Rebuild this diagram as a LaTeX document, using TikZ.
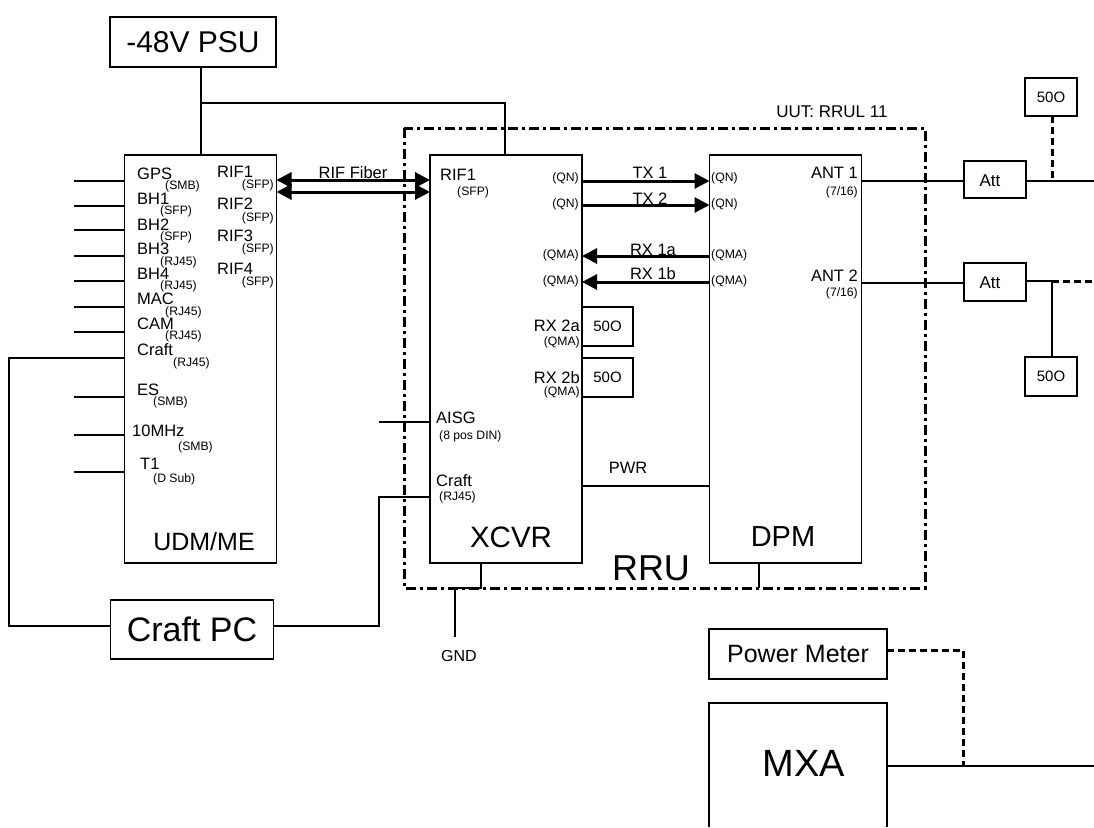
\documentclass[tikz,border=0pt]{standalone}
\usepackage{fontspec}
\setmainfont{Liberation Sans}
\usepackage{tikz}
\usetikzlibrary{arrows.meta,positioning,calc}
\newcommand{\fsize}[1]{\fontsize{#1}{#1}\selectfont}
\tikzset{
  box/.style={draw,line width=1.5pt,anchor=north west,inner sep=0pt,outer sep=0pt,align=center},
  wire/.style={line width=1.5pt},
  sigarrow/.style={line width=3pt,-{Triangle[length=15pt,width=15pt]}},
  fiberarrow/.style={line width=3pt,{Triangle[length=15pt,width=15pt]}-{Triangle[length=15pt,width=15pt]}},
  testwire/.style={line width=3pt,dash pattern=on 7pt off 4pt},
  rruframe/.style={line width=3pt,dash pattern=on 10pt off 4pt on 3pt off 4pt},
  port/.style={font=\fsize{16.5},inner sep=0pt},
  plug/.style={font=\fsize{12.2},inner sep=0pt},
  title/.style={inner sep=0pt}
}
\begin{document}
\begin{tikzpicture}[x=1pt,y=-1pt]
  \useasboundingbox (0,0) rectangle (1094,827);

  % RRU frame
  \draw[rruframe] (404,128) rectangle (925,588);
  \node[title,font=\fsize{17}] (uut) at (832,112) {UUT: RRUL 11};

  % Main boxes
  \node[box,minimum width=166pt,minimum height=50pt,font=\fsize{30}] (psu) at (110,17) {-48V PSU};
  \node[box,minimum width=152pt,minimum height=408pt] (udm) at (124.5,155) {};
  \node[box,minimum width=152pt,minimum height=408pt] (xcvr) at (430,155) {};
  \node[box,minimum width=152pt,minimum height=408pt] (dpm) at (709.5,155) {};
  \node[box,minimum width=163pt,minimum height=59pt,font=\fsize{34}] (craftpc) at (110.5,600) {Craft PC};
  \node[box,minimum width=178pt,minimum height=50pt,font=\fsize{25}] (meter) at (709,629) {Power Meter};
  \draw[wire] (709,827) -- (709,703) -- (887,703) -- (887,827);
  \node[title,font=\fsize{38}] (mxa) at (804,763) {MXA};

  \node[title,font=\fsize{25},anchor=south] (udmtitle) at (204,551) {UDM/ME};
  \node[title,font=\fsize{29.5}] (xcvrtitle) at (511,537) {XCVR};
  \node[title,font=\fsize{29}] (dpmtitle) at (783,537) {DPM};
  \node[title,font=\fsize{36}] (rrutitle) at (651,568) {RRU};

  % Terminations
  \node[box,minimum width=51pt,minimum height=39pt,font=\fsize{15}] (termA) at (582,307) {50O};
  \node[box,minimum width=51pt,minimum height=39pt,font=\fsize{15}] (termB) at (582,358) {50O};
  \node[box,minimum width=62pt,minimum height=37pt] (attA) at (964,161) {};
  \node[box,minimum width=62pt,minimum height=38pt] (attB) at (964,263) {};
  \node[title,font=\fsize{17}] (attAtext) at (990,181) {Att};
  \node[title,font=\fsize{17}] (attBtext) at (990,283) {Att};
  \node[box,minimum width=52pt,minimum height=38pt,font=\fsize{15}] (termC) at (1025,78) {50O};
  \node[box,minimum width=52pt,minimum height=39pt,font=\fsize{15}] (termD) at (1025,357) {50O};

  % UDM ports
  \foreach \name/\txt/\xx/\yy/\sub/\subx/\suby in {
    gps/GPS/137/174/SMB/165/186,
    bha/BH1/137/199/SFP/160/211,
    bhb/BH2/137/225/SFP/160/237,
    bhc/BH3/137/249/RJ45/160/262,
    bhd/BH4/137/274/RJ45/160/286,
    mac/MAC/137/299/RJ45/165/312,
    cam/CAM/137/324/RJ45/165/336,
    craft/Craft/137/350/RJ45/173/363,
    es/ES/137/390/SMB/153/402,
    ten/10MHz/132/431/SMB/178/447,
    tone/T1/140/464/D Sub/153/479}{
    \node[port,anchor=west] (\name) at (\xx,\yy) {\txt};
    \node[plug,anchor=west] (\name sub) at (\subx,\suby) {(\sub)};
  }
  \foreach \name/\txt/\yy/\suby in {
    rifa/RIF1/172/185,
    rifb/RIF2/204/218,
    rifc/RIF3/236/249,
    rifd/RIF4/269/282}{
    \node[port,anchor=west] (\name) at (217,\yy) {\txt};
    \node[plug,anchor=east] (\name sub) at (274,\suby) {(SFP)};
  }

  % XCVR ports
  \node[port,anchor=west] (xrif) at (440,175) {RIF1};
  \node[plug,anchor=west] (xrifsub) at (457,192) {(SFP)};
  \node[plug,anchor=east] (xqna) at (579,178) {(QN)};
  \node[plug,anchor=east] (xqnb) at (579,204) {(QN)};
  \node[plug,anchor=east] (xqma) at (579,255) {(QMA)};
  \node[plug,anchor=east] (xqmb) at (579,281) {(QMA)};
  \node[port,anchor=east] (rxa) at (580,326) {RX 2a};
  \node[plug,anchor=east] (rxasub) at (580,342) {(QMA)};
  \node[port,anchor=east] (rxb) at (580,378) {RX 2b};
  \node[plug,anchor=east] (rxbsub) at (580,392) {(QMA)};
  \node[port,anchor=west] (aisg) at (436,418) {AISG};
  \node[plug,anchor=west] (aisgsub) at (439,436) {(8 pos DIN)};
  \node[port,anchor=west] (xcraft) at (436,481) {Craft};
  \node[plug,anchor=west] (xcraftsub) at (439,497) {(RJ45)};

  % DPM ports
  \node[plug,anchor=west] (dqna) at (711,178) {(QN)};
  \node[plug,anchor=west] (dqnb) at (711,204) {(QN)};
  \node[plug,anchor=west] (dqma) at (711,255) {(QMA)};
  \node[plug,anchor=west] (dqmb) at (711,281) {(QMA)};
  \node[port,anchor=east] (anta) at (858,173) {ANT 1};
  \node[plug,anchor=east] (antasub) at (858,192) {(7/16)};
  \node[port,anchor=east] (antb) at (858,276) {ANT 2};
  \node[plug,anchor=east] (antbsub) at (858,293) {(7/16)};

  % Connector labels
  \node[port] (fiberlabel) at (353,173) {RIF Fiber};
  \node[port] (txa) at (650,173) {TX 1};
  \node[port] (txb) at (650,199) {TX 2};
  \node[port] (rxla) at (653,250) {RX 1a};
  \node[port] (rxlb) at (653,274) {RX 1b};
  \node[port] (pwr) at (628,468) {PWR};
  \node[port,font=\fsize{16}] (gnd) at (459,656) {GND};

  % Free ends
  \foreach \name/\yy in {gpsend/181,bhaend/206,bhbend/230,bhcend/256,bhdend/281,macend/307,camend/332,esend/397,tenend/435,toneend/472}{
    \coordinate (\name) at (74,\yy);
    \draw[wire] (\name) -- (\name -| udm.west);
  }
  \coordinate (aisgend) at (379,422);
  \coordinate (gndend) at (455,637);
  \coordinate (gndbend) at (481,588);
  \coordinate (psutap) at (201,103);
  \coordinate (antaend) at (1094,181);
  \coordinate (antbend) at (1094,281);
  \coordinate (mxaend) at (1094,766);
  \coordinate (mxaport) at (887,766);
  \coordinate (tapA) at (1052,181);
  \coordinate (tapB) at (1052,281);
  \coordinate (tapM) at (963,766);

  % Power and craft wiring
  \draw[wire] (psu.south -| psutap) -- (psutap |- udm.north);
  \draw[wire] (psutap) -- (505,103) -- (505,155);
  \draw[wire] (udm.west |- 0,358) -- (9,358) -- (9,626) -- (craftpc.west |- 0,626);
  \draw[wire] (craftpc.east |- 0,626) -- (379,626) -- (379,497) -- (xcvr.west |- 0,497);
  \draw[wire] (aisgend) -- (aisgend -| xcvr.west);
  \draw[wire] (gndbend |- xcvr.south) -- (gndbend) -- (gndend |- gndbend) -- (gndend);
  \draw[wire] (759,563) -- (759,588);
  \draw[wire] (xcvr.east |- 0,486) -- (dpm.west |- 0,486);

  % Signal arrows
  \draw[fiberarrow] (udm.east |- 0,180) -- (xcvr.west |- 0,180);
  \draw[fiberarrow] (udm.east |- 0,192) -- (xcvr.west |- 0,192);
  \draw[sigarrow] (xcvr.east |- 0,181) -- (dpm.west |- 0,181);
  \draw[sigarrow] (xcvr.east |- 0,205) -- (dpm.west |- 0,205);
  \draw[sigarrow] (dpm.west |- 0,256) -- (xcvr.east |- 0,256);
  \draw[sigarrow] (dpm.west |- 0,282) -- (xcvr.east |- 0,282);

  % Antenna side
  \draw[wire] (dpm.east |- 0,181) -- (attA.west |- 0,181);
  \draw[wire] (dpm.east |- 0,283) -- (attB.west |- 0,283);
  \draw[wire] (attA.east |- antaend) -- (antaend);
  \draw[wire] (attB.east |- tapB) -- (tapB);
  \draw[testwire] (tapB) -- (antbend);
  \draw[wire] (tapB) -- (tapB |- termD.north);
  \draw[testwire] (tapA |- termC.south) -- (tapA);

  % Meter side
  \draw[wire] (mxaport) -- (mxaend);
  \draw[testwire] (meter.east |- 0,650) -- (tapM |- 0,650) -- (tapM);
\end{tikzpicture}
\end{document}
